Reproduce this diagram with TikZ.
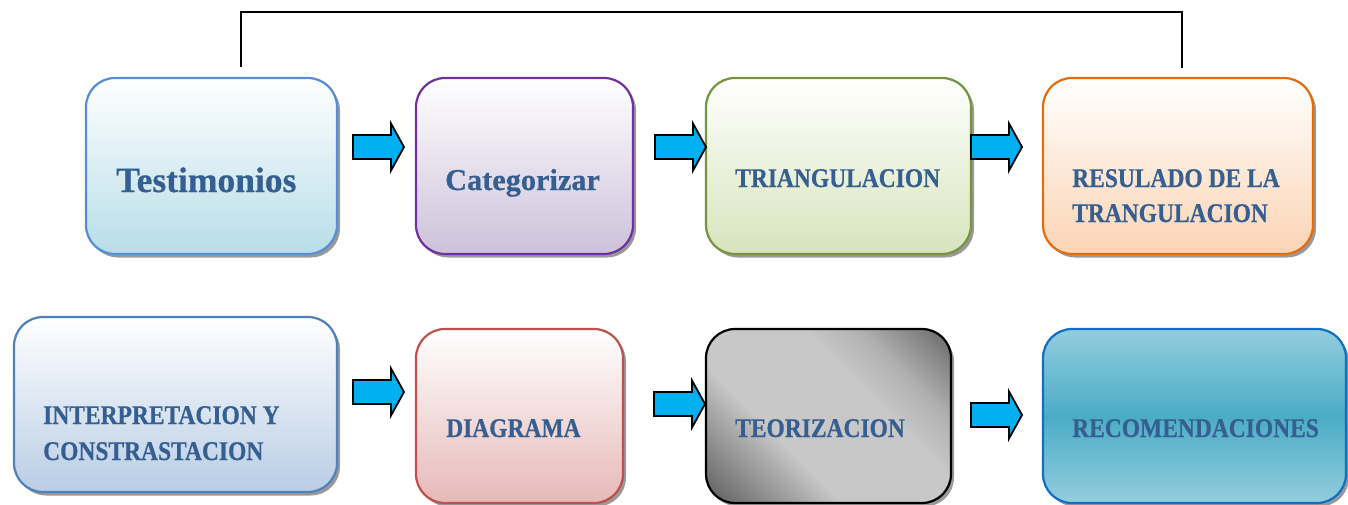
\documentclass[tikz,border=0pt]{standalone}
\usepackage{fontspec}
\setmainfont{Liberation Serif}[BoldFeatures={FakeBold=0.6}]
\newfontfamily\capfont{Liberation Serif}[FakeStretch=0.87, BoldFeatures={FakeBold=0.6}]
\usetikzlibrary{shadows}
\definecolor{textblue}{HTML}{365F91}
\definecolor{arrowblue}{HTML}{00B0F0}
\definecolor{bdA}{HTML}{558ED5}\definecolor{fA}{HTML}{B7DDE8}
\definecolor{bdB}{HTML}{7030A0}\definecolor{fB}{HTML}{CCC1DA}
\definecolor{bdC}{HTML}{77933C}\definecolor{fC}{HTML}{D7E4BD}
\definecolor{bdD}{HTML}{E46C0A}\definecolor{fD}{HTML}{FBD4B4}
\definecolor{bdE}{HTML}{4F81BD}\definecolor{fE}{HTML}{B9CDE5}
\definecolor{bdF}{HTML}{C0504D}\definecolor{fF}{HTML}{E6B9B8}
\definecolor{bdH}{HTML}{0F6FC6}\definecolor{fHa}{HTML}{93CDDD}\definecolor{fHb}{HTML}{4BACC6}
\definecolor{mdark}{HTML}{6C6C6C}\definecolor{mlight}{HTML}{C8C8C8}\definecolor{mmid}{HTML}{B0B0B0}
\pgfdeclarehorizontalshading{metal}{100bp}{color(0bp)=(mdark); color(18bp)=(mdark); color(38bp)=(mlight); color(60bp)=(mlight); color(70bp)=(mmid); color(84bp)=(mdark); color(100bp)=(mdark)}
\tikzset{
  box/.style={rectangle, rounded corners=29pt, line width=2.2pt, inner sep=0pt,
    drop shadow={shadow xshift=3pt, shadow yshift=-3.5pt, fill=black!40, opacity=1}},
  lbl/.style={anchor=base west, inner sep=0pt, text=textblue, font=\capfont\bfseries\fontsize{27}{32}\selectfont},
  arrowshape/.style={fill=arrowblue, draw=black, line width=1.8pt},
  link/.style={draw=black, line width=2pt}
}
\newcommand\blockarrow[2]{\draw[arrowshape, shift={(#1,-#2)}] (0,12) -- (38,12) -- (38,23.5) -- (51,0) -- (38,-23.5) -- (38,-12) -- (0,-12) -- cycle;}
\begin{document}
\begin{tikzpicture}[x=1pt,y=1pt]
\useasboundingbox (0,0) rectangle (1348,-504);
\fill[white] (0,0) rectangle (1348,-504);
% top row boxes
\node[box, draw=bdA, top color=white, bottom color=fA, minimum width=251pt, minimum height=176pt] (b1) at (211.5,-166) {};
\node[box, draw=bdB, top color=white, bottom color=fB, minimum width=217pt, minimum height=176pt] (b2) at (524.5,-166) {};
\node[box, draw=bdC, top color=white, bottom color=fC, minimum width=265pt, minimum height=176pt] (b3) at (838.5,-166) {};
\node[box, draw=bdD, top color=white, bottom color=fD, minimum width=270pt, minimum height=176pt] (b4) at (1178,-166) {};
% bottom row boxes
\node[box, draw=bdE, top color=white, bottom color=fE, minimum width=323pt, minimum height=175pt] (b5) at (175.5,-404.5) {};
\node[box, draw=bdF, top color=white, bottom color=fF, minimum width=207pt, minimum height=174pt] (b6) at (519.5,-416) {};
\node[box, draw=black, shading=metal, shading angle=45, minimum width=245pt, minimum height=174pt] (b7) at (828.5,-416) {};
\node[box, draw=bdH, top color=fHa, bottom color=fHa, middle color=fHb, minimum width=303pt, minimum height=174pt] (b8) at (1194.5,-416) {};
% labels
\node[lbl, font=\bfseries\fontsize{35.5}{40}\selectfont] (t1) at (116,-192) {Testimonios};
\node[lbl, font=\bfseries\fontsize{30.3}{36}\selectfont] (t2) at (445,-190) {Categorizar};
\node[lbl] (t3) at (735,-187) {TRIANGULACION};
\node[lbl] (t4a) at (1072,-187) {RESULADO DE LA};
\node[lbl] (t4b) at (1072,-222) {TRANGULACION};
\node[lbl] (t5a) at (43,-424) {INTERPRETACION Y};
\node[lbl] (t5b) at (43,-460) {CONSTRASTACION};
\node[lbl] (t6) at (446,-437) {DIAGRAMA};
\node[lbl] (t7) at (735,-437) {TEORIZACION};
\node[lbl] (t8) at (1072,-437) {RECOMENDACIONES};
% block arrows
\blockarrow{353}{147}
\blockarrow{655}{147}
\blockarrow{971}{147}
\blockarrow{353}{392}
\blockarrow{654}{404}
\blockarrow{971}{415}
% top bracket connector
\coordinate (c1) at (241,-67);
\coordinate (c2) at (1182,-68);
\coordinate (k1) at (241,-12);
\coordinate (k2) at (1182,-12);
\draw[link] (c1) -- (k1) -- (k2) -- (c2);
\end{tikzpicture}
\end{document}
